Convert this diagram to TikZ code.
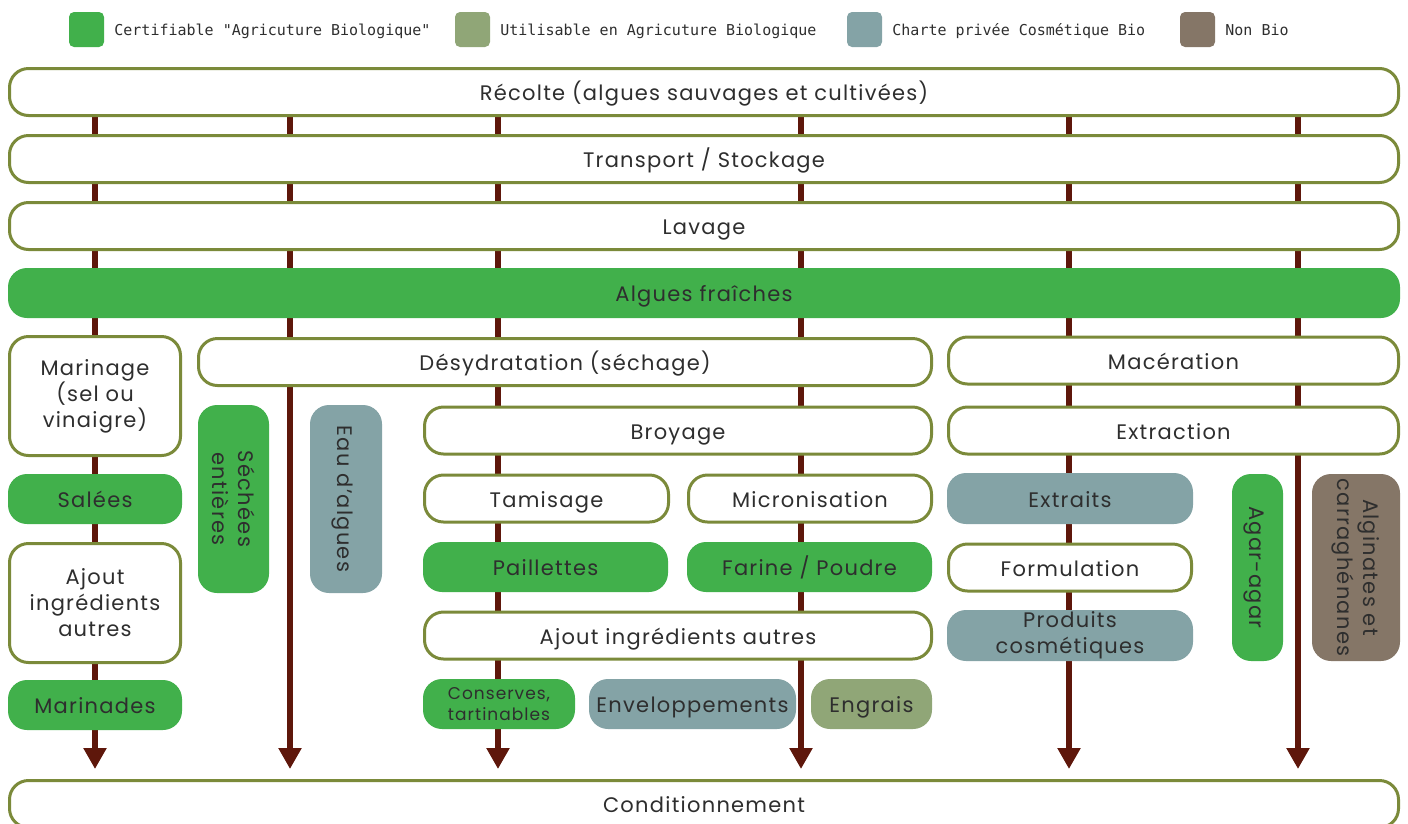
\documentclass[tikz,border=0pt]{standalone}
\usepackage{fontspec}
\setmainfont{Poppins}[LetterSpace=6]
\newfontfamily\legendfont{DejaVu Sans Mono}
\usetikzlibrary{arrows.meta}
\usetikzlibrary{positioning}
\usetikzlibrary{backgrounds}

\definecolor{bioGreen}{HTML}{41B04B}
\definecolor{utilGreen}{HTML}{90A677}
\definecolor{cosmBlue}{HTML}{84A3A6}
\definecolor{nonBioBrown}{HTML}{857667}
\definecolor{olive}{HTML}{7B8A3A}
\definecolor{flowBrown}{HTML}{5E170B}
\definecolor{txtGrey}{HTML}{2E2E2E}

\begin{document}
\begin{tikzpicture}[
    x=1pt, y=-1pt,
    >={Triangle[width=22pt,length=21pt]},
    every node/.style={font=\fontsize{21}{26}\selectfont, text=txtGrey},
    box/.style={rectangle, rounded corners=19pt, align=center, inner sep=0pt, text height=17pt, text depth=0pt},
    multi/.style={text height={}, text depth={}},
    process/.style={box, draw=olive, line width=3pt, fill=white, minimum height=47pt},
    bio/.style={box, fill=bioGreen, minimum height=50pt},
    utilbio/.style={box, fill=utilGreen, minimum height=50pt},
    cosmetic/.style={box, fill=cosmBlue, minimum height=50pt},
    nonbio/.style={box, fill=nonBioBrown},
    legsquare/.style={rectangle, rounded corners=5pt, minimum size=35pt, inner sep=0pt},
    legtext/.style={font=\legendfont\fontsize{15}{18}\selectfont, inner sep=0pt, text height=11pt, text depth=0pt},
    flow/.style={->, draw=flowBrown, line width=6pt}
]
\useasboundingbox (0,0) rectangle (1408,823);

% Legend
\node[legsquare, fill=bioGreen] (legBio) at (86.5,29.5) {};
\node[legtext, right=10pt of legBio] {Certifiable "Agricuture Biologique"};
\node[legsquare, fill=utilGreen] (legUtil) at (472.5,29.5) {};
\node[legtext, right=10pt of legUtil] {Utilisable en Agricuture Biologique};
\node[legsquare, fill=cosmBlue] (legCosm) at (864.5,29.5) {};
\node[legtext, right=10pt of legCosm] {Charte privée Cosmétique Bio};
\node[legsquare, fill=nonBioBrown] (legNon) at (1197.5,29.5) {};
\node[legtext, right=10pt of legNon] {Non Bio};

% Nodes
\node[process, minimum width=1389pt] (recolte) at (704,92) {Récolte (algues sauvages et cultivées)};
\node[process, minimum width=1389pt] (transport) at (704,159) {Transport / Stockage};
\node[process, minimum width=1389pt] (lavage) at (704,226) {Lavage};
\node[bio, minimum width=1392pt] (fraiches) at (704,293) {Algues fraîches};

\node[process, multi, minimum width=171pt, minimum height=119pt] (marinage) at (95,396) {Marinage\\(sel ou\\vinaigre)};
\node[process, minimum width=733pt] (sechage) at (565,362) {Désydratation (séchage)};
\node[process, minimum width=450pt] (maceration) at (1173.5,360.5) {Macération};

\node[bio, multi, rotate=-90, minimum width=188pt, minimum height=71pt] (entieres) at (233.5,499) {Séchées\\entières};
\node[cosmetic, rotate=-90, minimum width=188pt, minimum height=72pt] (eau) at (346,499) {Eau d'algues};
\node[process, minimum width=507pt] (broyage) at (678,430.5) {Broyage};
\node[process, minimum width=450pt] (extraction) at (1173.5,430.5) {Extraction};

\node[bio, minimum width=174pt] (salees) at (95,499) {Salées};
\node[process, minimum width=244pt] (tamisage) at (546.5,498.5) {Tamisage};
\node[process, minimum width=243pt] (micro) at (810,498.5) {Micronisation};
\node[cosmetic, minimum width=246pt, minimum height=51pt] (extraits) at (1070,498.5) {Extraits};
\node[bio, rotate=-90, minimum width=187pt, minimum height=51pt] (agar) at (1257.5,567.5) {Agar-agar};
\node[nonbio, multi, rotate=-90, minimum width=187pt, minimum height=88pt, font=\fontsize{21}{26}\selectfont] (alginates) at (1356,567.5) {Alginates et\\carraghénanes};

\node[process, multi, minimum width=171pt, minimum height=119pt] (ajoutMar) at (95,603) {Ajout\\ingrédients\\autres};
\node[bio, minimum width=245pt] (paillettes) at (545.5,567) {Paillettes};
\node[bio, minimum width=245pt] (farine) at (809.5,567) {Farine / Poudre};
\node[process, minimum width=243pt] (formulation) at (1070,567.5) {Formulation};

\node[process, minimum width=507pt] (ajoutSec) at (678,635.5) {Ajout ingrédients autres};
\node[cosmetic, multi, minimum width=246pt, minimum height=51pt, font=\fontsize{21}{26}\selectfont] (produits) at (1070,635.5) {Produits\\cosmétiques};

\node[bio, minimum width=174pt] (marinades) at (95,705) {Marinades};
\node[bio, multi, minimum width=152pt, font=\fontsize{17}{21}\selectfont] (conserves) at (499,704) {Conserves,\\tartinables};
\node[cosmetic, minimum width=207pt] (enveloppes) at (692.5,704) {Enveloppements};
\node[utilbio, minimum width=121pt] (engrais) at (871.5,704) {Engrais};

\node[process, minimum width=1389pt] (cond) at (704,804) {Conditionnement};

% Edges
\coordinate (colMarinage) at (95,769);
\coordinate (colSechage) at (290,769);
\coordinate (colTamis) at (498,769);
\coordinate (colMicro) at (801,769);
\coordinate (colExtrait) at (1069,769);
\coordinate (colAlginate) at (1298,769);
\begin{scope}[on background layer]
\foreach \col in {colMarinage,colSechage,colTamis,colMicro,colExtrait,colAlginate}
    \draw[flow] (recolte.south -| \col) -- (\col);
\end{scope}

\end{tikzpicture}
\end{document}
